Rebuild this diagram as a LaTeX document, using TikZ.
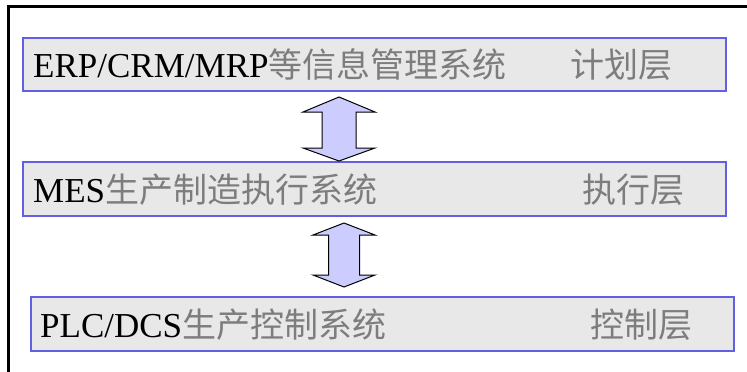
\documentclass[tikz,border=0pt]{standalone}
\usepackage{fontspec}
\setmainfont{Liberation Serif}
\newfontfamily\cjk{Noto Sans CJK SC}
\usetikzlibrary{positioning}

\definecolor{boxfill}{RGB}{232,232,232}
\definecolor{boxline}{RGB}{96,96,224}
\definecolor{arrowfill}{RGB}{204,204,255}
\definecolor{cngray}{RGB}{125,125,125}
\newcommand{\zh}[1]{{\cjk\fontsize{34}{40}\selectfont\color{cngray}#1}}

\tikzset{
  layer/.style={draw=boxline, line width=2pt, fill=boxfill, minimum width=703pt, inner sep=0pt, anchor=north west},
  txt/.style={inner sep=0pt, font=\fontsize{35}{40}\selectfont},
  updown/.style={draw=black, line width=1pt, fill=arrowfill},
}

\begin{document}
\begin{tikzpicture}[x=1pt,y=1pt]
    \useasboundingbox (0,0) rectangle (747,-372);
    % frame
    \draw[line width=3pt] (8,-372) -- (8,-6.5) -- (747,-6.5);

    % layers
    \node[layer, minimum height=53pt] (erp) at (22,-37) {};
    \node[layer, minimum height=54pt] (mes) at (22,-161) {};
    \node[layer, minimum height=54pt] (plc) at (30,-296) {};

    \node[txt, below right=13pt and 11pt of erp.west, anchor=base west] (erptxt) {ERP/CRM/MRP\zh{等信息管理系统}};
    \node[txt, below right=13pt and 548pt of erp.west, anchor=base west] (erplvl) {\zh{计划层}};
    \node[txt, below right=13pt and 11pt of mes.west, anchor=base west] (mestxt) {MES\zh{生产制造执行系统}};
    \node[txt, below right=13pt and 560pt of mes.west, anchor=base west] (meslvl) {\zh{执行层}};
    \node[txt, below right=13pt and 10pt of plc.west, anchor=base west] (plctxt) {PLC/DCS\zh{生产控制系统}};
    \node[txt, below right=13pt and 560pt of plc.west, anchor=base west] (plclvl) {\zh{控制层}};

    % arrows between layers
    \coordinate (up1) at (339,-97);
    \coordinate (up2) at (344,-223);
    \draw[updown] (up1) -- ++(36,-15) -- ++(-19,0) -- ++(0,-36) -- ++(19,0) -- ++(-36,-13)
        -- ++(-36,13) -- ++(19,0) -- ++(0,36) -- ++(-19,0) -- cycle;
    \draw[updown] (up2) -- ++(31,-12) -- ++(-15.5,0) -- ++(0,-40) -- ++(15.5,0) -- ++(-31,-12)
        -- ++(-31,12) -- ++(15.5,0) -- ++(0,40) -- ++(-15.5,0) -- cycle;
\end{tikzpicture}
\end{document}
